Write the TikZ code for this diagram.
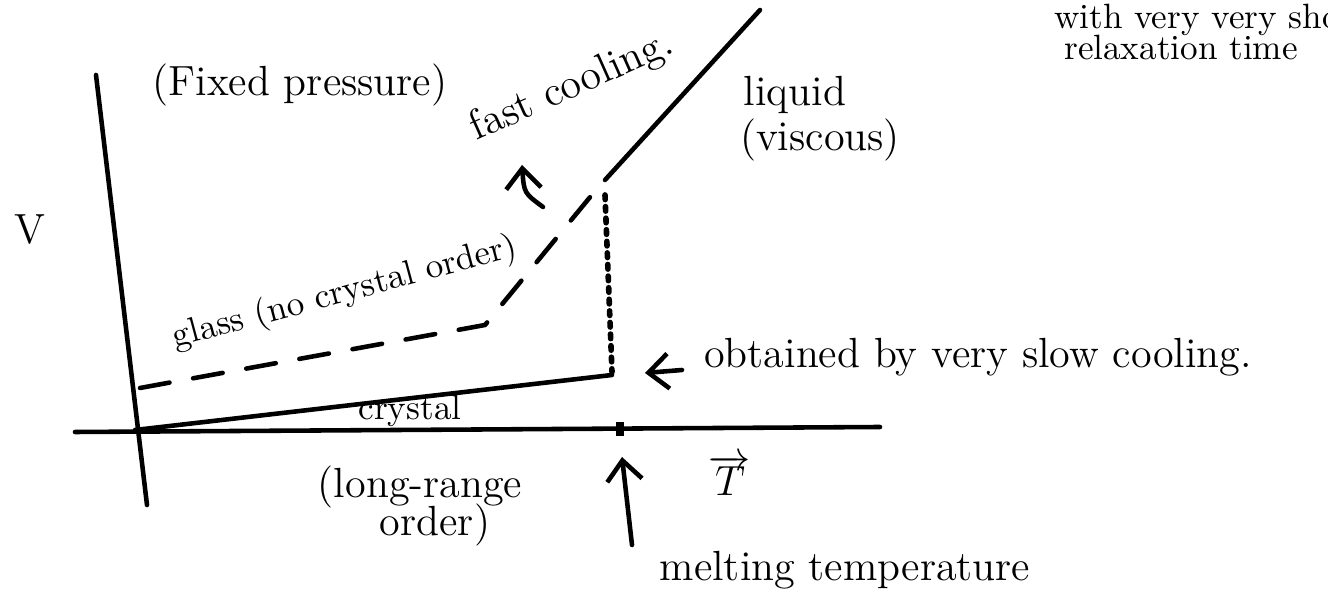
\documentclass[tikz,border=0pt]{standalone}
\usetikzlibrary{positioning,arrows.meta}

\tikzset{lbl/.style = {font=\large,
                       inner sep=1pt},
         pen/.style = {line width=1.3pt,
                       line cap=round,
                       line join=round}}

\begin{document}
\begin{tikzpicture}[glassline/.style = {pen,
                                        dash pattern=on 0.3cm off 0.24cm},
                    arr/.style = {pen,
                                  -{Straight Barb[length=2mm,width=3.5mm]}}]
		\useasboundingbox (0,0) rectangle (13.28,5.95);
		% axes
		\coordinate (vtop) at (0.96,5.20);
		\coordinate (vbot) at (1.47,0.90);
		\coordinate (tleft) at (0.75,1.63);
		\coordinate (tright) at (8.80,1.68);
		\draw[pen] (vtop) -- (vbot);
		\draw[pen] (tleft) -- (tright);
		\node[lbl] (V) at (0.30,3.65) {V};
		\node[lbl] (T) at (7.30,1.20) {$\overrightarrow{T}$};
		% melting point
		\coordinate (tm) at (6.20,1.66);
		\draw[line width=2.5pt] ([yshift=-0.07cm]tm) -- ([yshift=0.07cm]tm);
		% crystal, glass, liquid
		\coordinate (c0) at (1.35,1.65);
		\coordinate (c1) at (6.12,2.20);
		\coordinate (g0) at (1.40,2.07);
		\coordinate (g1) at (4.85,2.70);
		\coordinate (g2) at (6.00,4.10);
		\coordinate (l0) at (6.05,4.15);
		\coordinate (l1) at (7.60,5.85);
		\draw[pen] (c0) -- (c1);
		\draw[glassline] (g0) -- (g1) -- (g2);
		\draw[pen] (l0) -- (l1);
		\draw[pen, dotted, line width=1.6pt] (6.05,4.00) coordinate (d0) -- (c1 |- 0,2.23) coordinate (d1);
		% labels
		\node[lbl] (fixed) at (3.00,5.10) {(Fixed pressure)};
		\node[lbl, rotate=24] (fast) at (5.72,5.08) {fast cooling.};
		\coordinate (fa0) at (5.43,3.88);
		\coordinate (fa1) at (5.22,4.30);
		\draw[arr] (fa0) .. controls (5.24,4.02) .. (fa1);
		\node[lbl] (liquid) at (7.95,5.00) {liquid};
		\node[lbl] (viscous) at (8.20,4.55) {(viscous)};
		\node[lbl, font=\normalsize, rotate=15] (glass) at (3.45,3.02) {glass (no crystal order)};
		\node[lbl, anchor=west] (slow) at (7.00,2.38) {obtained by very slow cooling.};
		\coordinate (sa0) at (6.82,2.25);
		\coordinate (sa1) at (6.45,2.22);
		\draw[arr] (sa0) -- (sa1);
		\node[lbl, font=\normalsize] (crystal) at (4.10,1.84) {crystal};
		\node[lbl] (lrange) at (4.20,1.08) {(long-range};
		\node[lbl] (order) at (4.35,0.70) {order)};
		\coordinate (ma0) at (6.32,0.50);
		\coordinate (ma1) at (6.22,1.38);
		\draw[arr] (ma0) -- (ma1);
		\node[lbl] (melt) at (8.45,0.25) {melting temperature};
		\node[lbl, font=\normalsize, anchor=north west] (relax1) at (10.50,5.95) {with very very short};
		\node[lbl, font=\normalsize, anchor=west] (relax2) at (10.60,5.47) {relaxation time};
	\end{tikzpicture}
\end{document}
